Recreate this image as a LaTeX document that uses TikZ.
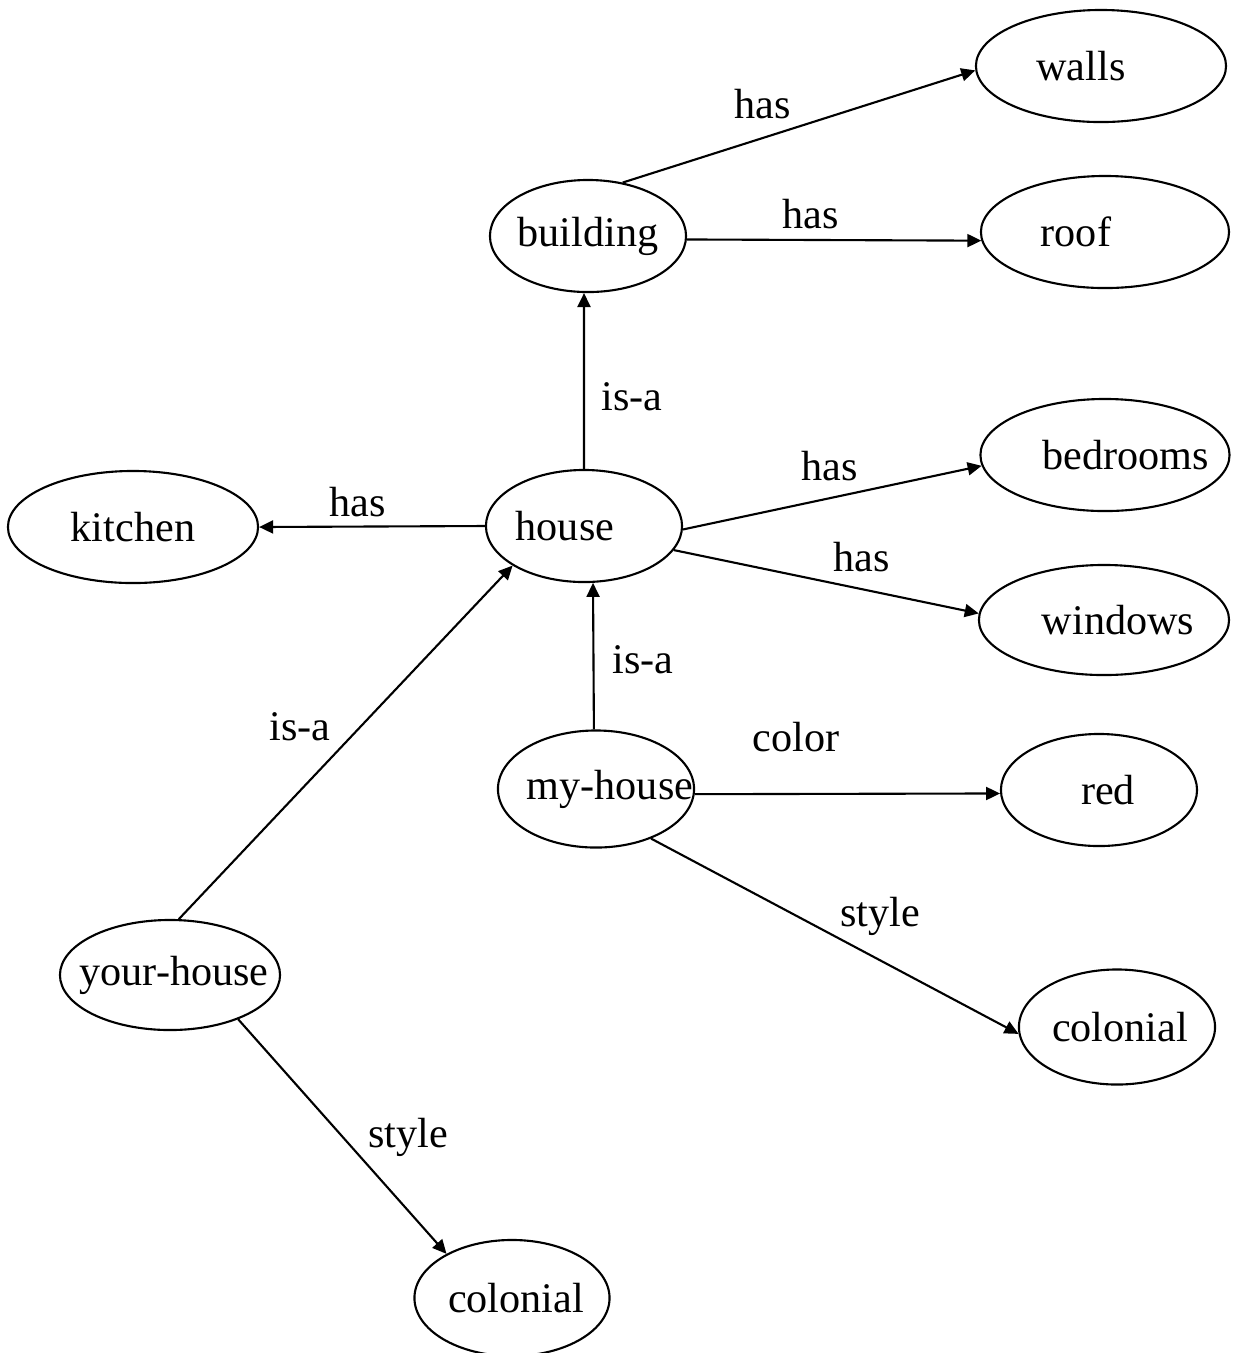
\documentclass[tikz,border=0pt]{standalone}
\usepackage{fontspec}
\setmainfont{Liberation Serif}
\usepackage{tikz}
\usetikzlibrary{arrows.meta,shapes.geometric}

% text inside an ellipse, shifted sideways, without widening the ellipse
\newcommand{\intext}[2][0pt]{\makebox[0pt]{\hspace*{#1}#2}}

\begin{document}
\begin{tikzpicture}[x=0.01cm, y=-0.01cm, line width=0.6pt,
    font=\fontsize{12}{14}\selectfont,
    obj/.style={ellipse, draw, inner sep=0pt, minimum height=1.12cm, minimum width=#1},
    obj/.default=1.96cm,
    lbl/.style={inner sep=0pt},
    arr/.style={-{Triangle[length=0.14cm, width=0.13cm]}}]
  \useasboundingbox (0,0) rectangle (1233,1353);

  % objects
  \node[obj=2.5cm] (walls) at (1101,66) {\intext[-0.4cm]{walls}};
  \node[obj] (building) at (588,236) {\intext{building}};
  \node[obj=2.48cm] (roof) at (1105,232) {\intext[-0.58cm]{roof}};
  \node[obj=2.49cm] (bedrooms) at (1105,455) {\intext[0.42cm]{bedrooms}};
  \node[obj=2.5cm] (kitchen) at (133,527) {\intext{kitchen}};
  \node[obj] (house) at (584,526) {\intext[-0.38cm]{house}};
  \node[obj=2.5cm, minimum height=1.1cm] (windows) at (1104,620) {\intext[0.28cm]{windows}};
  \node[obj, minimum height=1.17cm] (myhouse) at (596,789) {\intext[0.28cm]{my-house}};
  \node[obj] (red) at (1099,790) {\intext[0.18cm]{red}};
  \node[obj=2.2cm, minimum height=1.1cm] (yourhouse) at (170,975) {\intext[0.08cm]{your-house}};
  \node[obj, minimum height=1.15cm] (colonialA) at (1117,1027) {\intext[0.06cm]{colonial}};
  \node[obj=1.95cm, minimum height=1.16cm] (colonialB) at (512,1298) {\intext[0.08cm]{colonial}};

  % relations
  \draw[arr] (building.57) -- (walls.182);
  \draw[arr] (building.358) -- (roof.184);
  \draw[arr] (house.north) -- (building.266);
  \draw[arr] (house.358) -- (bedrooms.185);
  \draw[arr] (house.-15) -- (windows.177);
  \draw[arr] (house.west) -- (kitchen.east);
  \draw[arr] (myhouse.92) -- (house.-81);
  \draw[arr] (myhouse.-3) -- (red.182);
  \draw[arr] (myhouse.-42) -- (colonialA.184);
  \draw[arr] (yourhouse.81) -- (house.209);
  \draw[arr] (yourhouse.-33) -- (colonialB.146);

  % relation names
  \node[lbl] (has1) at (763,104) {has};
  \node[lbl] (has2) at (811,214) {has};
  \node[lbl] (isa1) at (632,397) {is-a};
  \node[lbl] (has3) at (830,466) {has};
  \node[lbl] (has4) at (862,557) {has};
  \node[lbl] (has5) at (358,502) {has};
  \node[lbl] (isa2) at (643,660) {is-a};
  \node[lbl] (color1) at (796,737) {color};
  \node[lbl] (style1) at (880,916) {style};
  \node[lbl] (isa3) at (300,727) {is-a};
  \node[lbl] (style2) at (408,1137) {style};
\end{tikzpicture}
\end{document}
